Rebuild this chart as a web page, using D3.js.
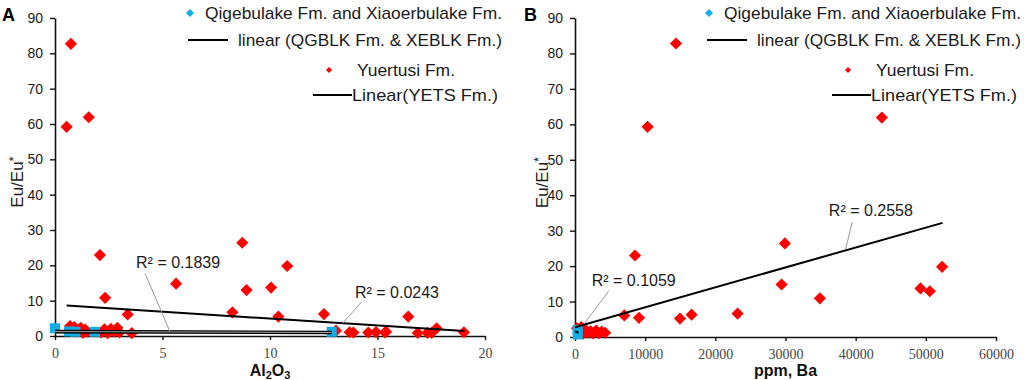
<!DOCTYPE html>
<html>
<head>
<meta charset="utf-8">
<script src="https://cdn.jsdelivr.net/npm/d3@7"></script>
<style>
  html, body { margin: 0; padding: 0; background: #fff; }
  svg { display: block; font-family: 'Liberation Sans', Arial, sans-serif; }
</style>
</head>
<body>
<div class="vis"></div>
<script>
// ---- data ----
const yTicks = [0, 10, 20, 30, 40, 50, 60, 70, 80, 90];
const aTicksX = [0, 5, 10, 15, 20];
const bTicksX = [0, 10000, 20000, 30000, 40000, 50000, 60000];

// panel A: Al2O3 vs Eu/Eu*
const aQgblk = [[0, 2.2], [0.65, 1.3], [0.95, 1.2], [1.86, 1.2], [12.87, 1.2]];
const aYuertusi = [
  [0.74, 82.7], [0.54, 59.2], [1.57, 61.9], [2.09, 22.9], [2.33, 10.8], [3.38, 6.1], [3.57, 0.8],
  [5.63, 14.8], [8.25, 6.7], [8.71, 26.4], [8.91, 13.0], [10.05, 13.7], [10.8, 19.8], [10.39, 5.5],
  [12.51, 6.2], [13.07, 1.5], [13.7, 1.05], [13.88, 1.0], [14.57, 1.0], [14.93, 1.1], [15.35, 1.0],
  [15.4, 1.2], [16.43, 5.5], [16.87, 0.85], [17.32, 0.9], [17.52, 0.9], [17.75, 2.2], [19.02, 1.05],
  [0.7, 2.8], [0.9, 2.5], [1.1, 1.5], [1.2, 2.3], [1.3, 0.9], [1.4, 1.8], [1.5, 1.2],
  [2.15, 1.0], [2.3, 1.9], [2.45, 0.8], [2.6, 2.0], [2.75, 1.2], [2.9, 2.3], [3.0, 1.0]
];
const aTrendYets = [[0.54, 8.6], [19.04, 1.4]];
const aTrendQgblk = [[0, 1.25], [12.87, 1.0]];
const aRsq = ['R\u00b2 = 0.1839', 'R\u00b2 = 0.0243'];

// panel B: Ba (ppm) vs Eu/Eu*
const bQgblk = [[380, 2.0], [380, 0.7]];
const bYuertusi = [
  [14390, 82.8], [10350, 59.3], [43730, 61.9], [8550, 23.0], [7020, 6.1], [9120, 5.4],
  [14960, 5.2], [16620, 6.3], [23170, 6.6], [29910, 26.4], [29440, 14.8], [34900, 10.9],
  [49240, 13.7], [50570, 12.9], [52320, 19.8],
  [300, 2.5], [600, 1.5], [900, 2.8], [1200, 1.0], [1500, 2.0], [1800, 1.3], [2200, 1.6],
  [2600, 1.0], [3000, 1.8], [3400, 1.1], [3800, 1.5], [4300, 1.2]
];
const bTrendYets = [[0, 2.76], [52380, 32.2]];
const bTrendQgblk = [[0, 1.6], [500, 1.2]];
const bRsq = ['R\u00b2 = 0.1059', 'R\u00b2 = 0.2558'];

const legendLabels = [
  'Qigebulake Fm. and Xiaoerbulake Fm.',
  'linear (QGBLK Fm. & XEBLK Fm.)',
  'Yuertusi Fm.',
  'Linear(YETS Fm.)'
];

const blue = '#12aee6';
const red = '#ff0000';
const ink = '#1a1a1a';

const svg = d3.select('.vis')
  .append('svg')
  .attr('width', 1024)
  .attr('height', 380);

const diamond = d3.symbol().type(d3.symbolSquare);

const drawPanel = (o) => {
  const x = d3.scaleLinear().domain(o.xDomain).range([o.left, o.right]);
  const y = d3.scaleLinear().domain([0, 90]).range([o.bottom, o.top]);
  const g = svg.append('g');

  // axes
  const yAxis = g.append('g')
    .attr('transform', 'translate(' + o.left + ',0)')
    .call(d3.axisLeft(y).tickValues(yTicks).tickSize(5).tickSizeOuter(0).tickPadding(7));
  yAxis.selectAll('text')
    .style('font-family', "'Liberation Sans', Arial, sans-serif")
    .style('font-size', '14px')
    .attr('fill', ink);

  const xAxis = g.append('g')
    .attr('transform', 'translate(0,' + o.bottom + ')')
    .call(d3.axisBottom(x).tickValues(o.xTicks).tickSize(4).tickSizeOuter(0).tickPadding(8).tickFormat(d3.format('d')));
  xAxis.selectAll('text')
    .style('font-family', "'Liberation Serif', 'Times New Roman', serif")
    .style('font-size', '14px')
    .attr('fill', '#444');

  g.selectAll('.domain').attr('stroke', '#111').attr('stroke-width', 1.6);
  g.selectAll('.tick line').attr('stroke', '#111').attr('stroke-width', 1.4);

  // panel letter
  g.append('text')
    .text(o.letter)
    .attr('x', o.letterX)
    .attr('y', 21)
    .style('font-size', '18px')
    .style('font-weight', 'bold')
    .attr('fill', '#000');

  // y label
  g.append('text')
    .attr('transform', 'translate(' + o.yLabelX + ',' + ((o.top + o.bottom) / 2 + 5) + ') rotate(-90)')
    .attr('text-anchor', 'middle')
    .style('font-size', '17px')
    .attr('fill', ink)
    .text('Eu/Eu')
    .append('tspan')
    .attr('dy', -5)
    .style('font-size', '13px')
    .text('*');

  // x label
  const xl = g.append('text')
    .attr('x', (o.left + o.right) / 2)
    .attr('y', 376)
    .attr('text-anchor', 'middle')
    .style('font-size', '16px')
    .style('font-weight', 'bold')
    .attr('fill', '#111');
  o.xLabel.forEach(part => {
    const t = xl.append('tspan').text(part.t);
    if (part.sub) {
      t.style('font-size', '11px').attr('dy', 3);
    } else {
      t.attr('dy', part.back ? -3 : 0);
    }
  });

  // points: red first, blue on top
  g.selectAll('.ye')
    .data(o.yuertusi)
    .enter()
    .append('path')
    .attr('class', 'ye')
    .attr('d', diamond.size(74)())
    .attr('transform', d => 'translate(' + x(d[0]) + ',' + y(d[1]) + ') rotate(45)')
    .attr('fill', red);

  g.selectAll('.qg')
    .data(o.qgblk)
    .enter()
    .append('path')
    .attr('class', 'qg')
    .attr('d', diamond.size(100)())
    .attr('transform', d => 'translate(' + x(d[0]) + ',' + y(d[1]) + ')')
    .attr('fill', blue);

  // trend lines
  const line = d3.line().x(d => x(d[0])).y(d => y(d[1]));
  g.append('path')
    .attr('d', line(o.trendQgblk))
    .attr('fill', 'none')
    .attr('stroke', '#000')
    .attr('stroke-width', o.doubleLine ? 3.6 : 2);
  if (o.doubleLine) {
    g.append('path')
      .attr('d', line(o.trendQgblk))
      .attr('fill', 'none')
      .attr('stroke', '#bbb')
      .attr('stroke-width', 0.9);
  }

  g.append('path')
    .attr('d', line(o.trendYets))
    .attr('fill', 'none')
    .attr('stroke', '#000')
    .attr('stroke-width', 2);

  // R squared labels with leaders
  o.rsq.forEach((label, i) => {
    const a = o.rsqPos[i];
    g.append('line')
      .attr('x1', x(a.from[0])).attr('y1', y(a.from[1]))
      .attr('x2', x(a.to[0])).attr('y2', y(a.to[1]))
      .attr('stroke', '#999')
      .attr('stroke-width', 1);
    g.append('text')
      .attr('x', x(a.at[0]))
      .attr('y', y(a.at[1]))
      .style('font-size', '16px')
      .attr('fill', ink)
      .text(label);
  });

  // legend
  const lg = g.append('g').attr('transform', 'translate(' + o.legendX + ',0)');
  const items = [
    {mark: 'blue', mx: 2, tx: 17, len: 297, y: 13},
    {mark: 'line', mx: 0, mx2: 40, tx: 50, len: 264, y: 40},
    {mark: 'red', mx: 141, tx: 169, len: 98, y: 70},
    {mark: 'line', mx: 125, mx2: 164, tx: 164, len: 146, y: 95}
  ];
  items.forEach((it, i) => {
    if (it.mark === 'line') {
      lg.append('line')
        .attr('x1', it.mx).attr('x2', it.mx2)
        .attr('y1', it.y).attr('y2', it.y)
        .attr('stroke', '#000')
        .attr('stroke-width', 2);
    } else {
      lg.append('path')
        .attr('d', diamond.size(it.mark === 'blue' ? 32 : 18)())
        .attr('transform', 'translate(' + it.mx + ',' + it.y + ') rotate(45)')
        .attr('fill', it.mark === 'blue' ? blue : red);
    }
    lg.append('text')
      .attr('x', it.tx)
      .attr('y', it.y + 6)
      .attr('textLength', it.len)
      .attr('lengthAdjust', 'spacingAndGlyphs')
      .style('font-size', '17px')
      .attr('fill', ink)
      .text(legendLabels[i]);
  });
};

drawPanel({
  letter: 'A', letterX: 2, yLabelX: 23,
  left: 55, right: 485, top: 18, bottom: 336,
  xDomain: [0, 20], xTicks: aTicksX,
  xLabel: [{t: 'Al'}, {t: '2', sub: true}, {t: 'O', back: true}, {t: '3', sub: true}],
  qgblk: aQgblk, yuertusi: aYuertusi,
  trendYets: aTrendYets, trendQgblk: aTrendQgblk, doubleLine: true,
  rsq: aRsq,
  rsqPos: [
    {at: [3.77, 19.2], from: [4.19, 17.7], to: [5.35, 1.2]},
    {at: [13.95, 10.75], from: [14.27, 9.7], to: [13.38, 3.6]}
  ],
  legendX: 188
});

drawPanel({
  letter: 'B', letterX: 524, yLabelX: 548,
  left: 575, right: 996, top: 18, bottom: 337,
  xDomain: [0, 60000], xTicks: bTicksX,
  xLabel: [{t: 'ppm, Ba'}],
  qgblk: bQgblk, yuertusi: bYuertusi,
  trendYets: bTrendYets, trendQgblk: bTrendQgblk, doubleLine: false,
  rsq: bRsq,
  rsqPos: [
    {at: [2380, 14.4], from: [4840, 13.1], to: [1420, 4.0]},
    {at: [36180, 34.0], from: [39500, 32.4], to: [38560, 24.7]}
  ],
  legendX: 707
});
</script>
</body>
</html>
